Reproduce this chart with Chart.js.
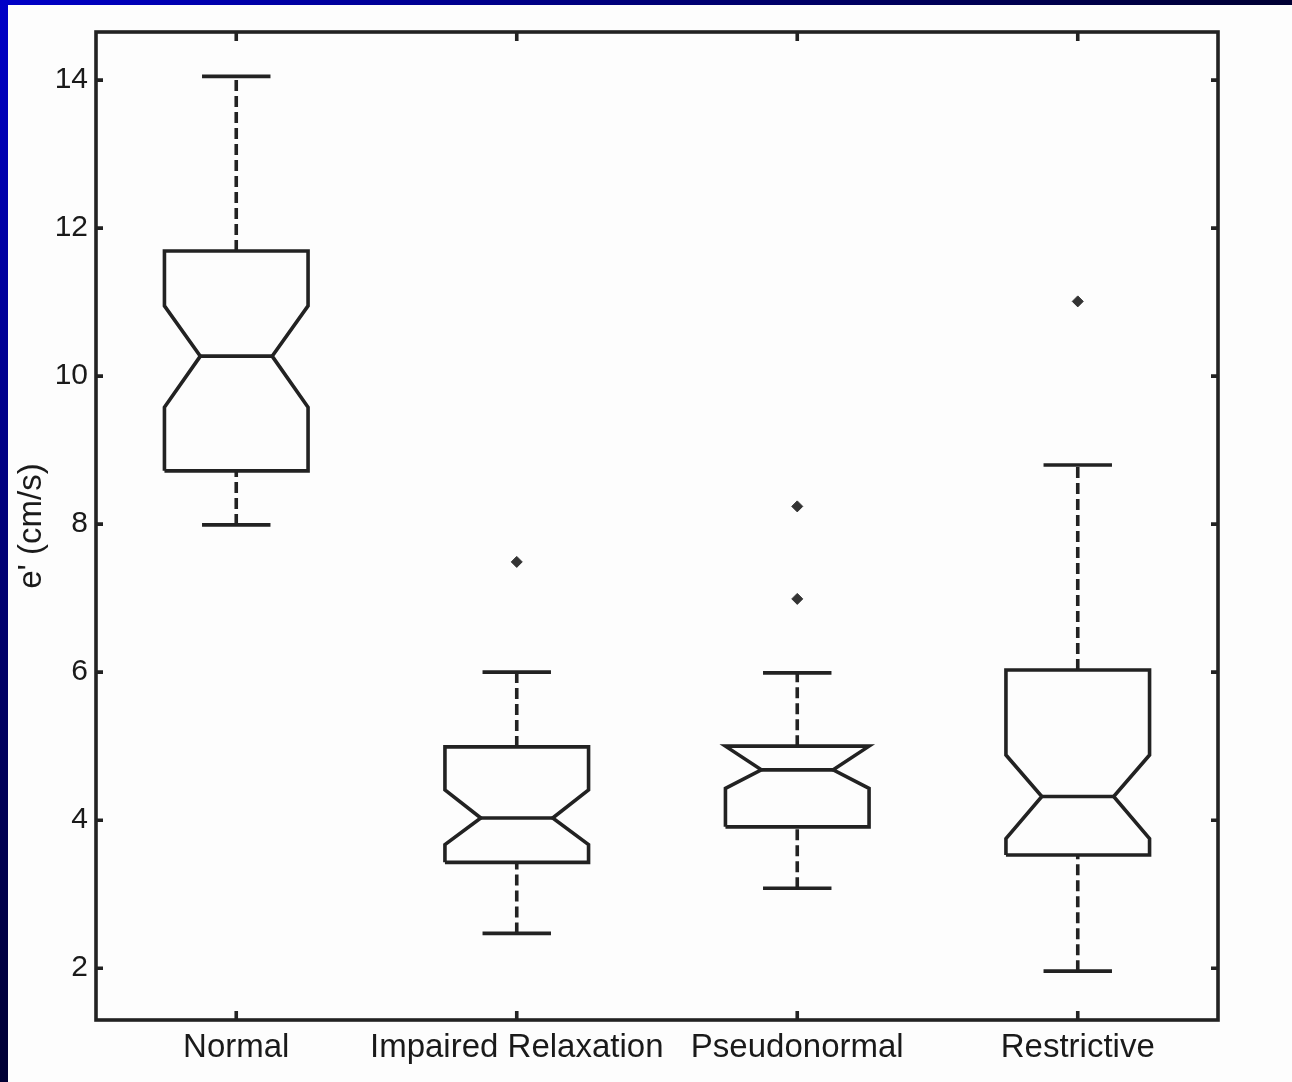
<!DOCTYPE html>
<html>
<head>
<meta charset="utf-8">
<title>e' by diastolic function group</title>
<script src="https://cdn.jsdelivr.net/npm/chart.js@4.4.0/dist/chart.umd.min.js"></script>
<style>
  html, body { margin: 0; padding: 0; }
  body {
    width: 1292px; height: 1082px; overflow: hidden; position: relative;
    background: linear-gradient(to bottom right, #0000c8 0%, #000078 25%, #000034 50%, #000000 100%);
  }
  #panel { position: absolute; left: 8px; top: 5px; right: 0; bottom: 0; background: #fdfdfd; }
  #chart { position: absolute; left: 0; top: 0; }
</style>
</head>
<body>
<div id="panel"></div>
<canvas id="chart" width="1292" height="1082"></canvas>
<script>
// --- Data (cm/s) ---
const categories = ["Normal", "Impaired Relaxation", "Pseudonormal", "Restrictive"];
const whiskerLow  = [7.99, 2.47, 3.08, 1.96];
const q1          = [8.72, 3.43, 3.91, 3.53];
const notchLow    = [9.58, 3.67, 4.43, 3.75];
const median      = [10.27, 4.03, 4.68, 4.32];
const notchHigh   = [10.95, 4.41, 5.00, 4.88];
const q3          = [11.69, 4.99, 5.00, 6.03];
const whiskerHigh = [14.05, 6.00, 5.99, 8.80];
const outliers    = [[], [7.49], [8.24, 6.99], [11.01]];
const yTicks      = [2, 4, 6, 8, 10, 12, 14];

// --- Style ---
const INK = "#222";
const BOX_HALF = 0.256;   // box half width, in category units
const CAP_HALF = 0.122;
const LW = 3.6;

const lineSet = (data, dash = []) => ({
  type: "scatter",
  data,
  showLine: true,
  fill: false,
  tension: 0,
  spanGaps: false,
  borderColor: INK,
  borderWidth: LW,
  borderDash: dash,
  borderJoinStyle: "miter",
  borderCapStyle: "butt",
  pointRadius: 0
});

function buildDatasets() {
  const sets = [];
  categories.forEach((_, i) => {
    const c = i + 1, w = BOX_HALF, n = BOX_HALF / 2;

    // notched box outline
    sets.push(lineSet([
      { x: c - w, y: q1[i] }, { x: c - w, y: notchLow[i] }, { x: c - n, y: median[i] },
      { x: c - w, y: notchHigh[i] }, { x: c - w, y: q3[i] }, { x: c + w, y: q3[i] },
      { x: c + w, y: notchHigh[i] }, { x: c + n, y: median[i] }, { x: c + w, y: notchLow[i] },
      { x: c + w, y: q1[i] }, { x: c - w, y: q1[i] }
    ]));

    // median
    sets.push(lineSet([{ x: c - n, y: median[i] }, { x: c + n, y: median[i] }]));

    // dashed whiskers
    sets.push(lineSet([
      { x: c, y: q3[i] }, { x: c, y: whiskerHigh[i] }, { x: c, y: null },
      { x: c, y: whiskerLow[i] }, { x: c, y: q1[i] }
    ], [11, 5]));

    // whisker caps
    sets.push(lineSet([
      { x: c - CAP_HALF, y: whiskerHigh[i] }, { x: c + CAP_HALF, y: whiskerHigh[i] }, { x: c, y: null },
      { x: c - CAP_HALF, y: whiskerLow[i] }, { x: c + CAP_HALF, y: whiskerLow[i] }
    ]));

    // outliers
    if (outliers[i].length) {
      sets.push({
        type: "scatter",
        data: outliers[i].map(v => ({ x: c, y: v })),
        pointStyle: "rectRot",
        pointRadius: 5.5,
        backgroundColor: "#333",
        borderColor: "#333",
        borderWidth: 1
      });
    }
  });
  return sets;
}

// frame round the plot plus inward tick marks on all four sides
const framePlugin = {
  id: "frame",
  afterDatasetsDraw(chart) {
    const { ctx, chartArea: a, scales: { x, y } } = chart;
    ctx.save();
    ctx.strokeStyle = INK;
    ctx.lineWidth = LW;
    ctx.lineJoin = "miter";
    ctx.strokeRect(a.left, a.top, a.right - a.left, a.bottom - a.top);

    ctx.beginPath();
    y.ticks.forEach(t => {
      const py = y.getPixelForValue(t.value);
      ctx.moveTo(a.left, py); ctx.lineTo(a.left + 7, py);
      ctx.moveTo(a.right, py); ctx.lineTo(a.right - 7, py);
    });
    x.ticks.forEach(t => {
      const px = x.getPixelForValue(t.value);
      ctx.moveTo(px, a.top); ctx.lineTo(px, a.top + 9);
      ctx.moveTo(px, a.bottom); ctx.lineTo(px, a.bottom - 9);
    });
    ctx.stroke();
    ctx.restore();
  }
};

const font = "'Liberation Sans', Arial, Helvetica, sans-serif";

new Chart(document.getElementById("chart"), {
  type: "scatter",
  data: { datasets: buildDatasets() },
  plugins: [framePlugin],
  options: {
    responsive: false,
    animation: false,
    events: [],
    devicePixelRatio: 1,
    layout: { padding: { left: 0, top: 32, right: 74, bottom: 0 } },
    plugins: { legend: { display: false }, tooltip: { enabled: false } },
    scales: {
      x: {
        type: "linear",
        min: 0.5,
        max: 4.5,
        afterBuildTicks: s => { s.ticks = categories.map((_, i) => ({ value: i + 1 })); },
        afterFit: s => { s.height = 62; },
        grid: { display: false, drawTicks: false },
        border: { display: false },
        ticks: {
          padding: 8,
          color: "#1a1a1a",
          font: { family: font, size: 33 },
          maxRotation: 0,
          autoSkip: false,
          callback: v => categories[v - 1]
        }
      },
      y: {
        type: "linear",
        min: 1.3,
        max: 14.65,
        afterBuildTicks: s => { s.ticks = yTicks.map(v => ({ value: v })); },
        afterFit: s => { s.width = 96; },
        grid: { display: false, drawTicks: false },
        border: { display: false },
        ticks: {
          padding: 8,
          color: "#1a1a1a",
          font: { family: font, size: 30 }
        },
        title: {
          display: true,
          text: "e' (cm/s)",
          color: "#1a1a1a",
          font: { family: font, size: 33, lineHeight: 1.2 },
          padding: { top: 12, bottom: 0 }
        }
      }
    }
  }
});
</script>
</body>
</html>
